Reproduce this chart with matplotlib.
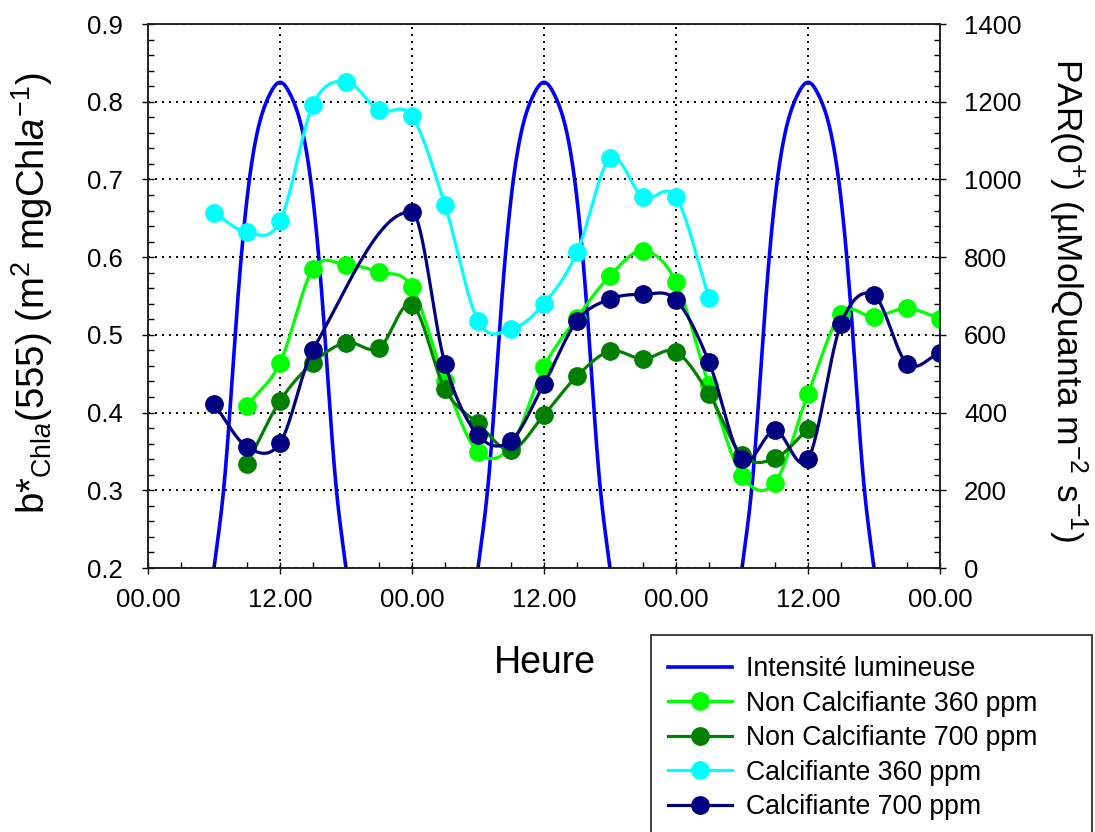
import numpy as np
import matplotlib.pyplot as plt
from matplotlib.patches import Rectangle
from matplotlib.lines import Line2D

plt.rcParams['font.family'] = 'Liberation Sans'
plt.rcParams['mathtext.fontset'] = 'custom'
plt.rcParams['mathtext.rm'] = 'Liberation Sans'
plt.rcParams['mathtext.it'] = 'Liberation Sans:italic'

# --- data (hours since start, 3 days) ---
nc360_h = [9, 12, 15, 18, 21, 24, 27, 30, 33, 36, 39, 42, 45, 48, 51, 54, 57, 60, 63, 66, 69, 72]
nc360_v = [0.409, 0.464, 0.585, 0.590, 0.581, 0.561, 0.440, 0.349, 0.357, 0.459, 0.522,
           0.576, 0.608, 0.568, 0.435, 0.319, 0.310, 0.424, 0.527, 0.523, 0.534, 0.521]

nc700_h = [9, 12, 15, 18, 21, 24, 27, 30, 33, 36, 39, 42, 45, 48, 51, 54, 57, 60]
nc700_v = [0.334, 0.415, 0.464, 0.490, 0.483, 0.539, 0.430, 0.386, 0.352, 0.397, 0.447,
           0.479, 0.469, 0.478, 0.424, 0.345, 0.341, 0.379]

c360_h = [6, 9, 12, 15, 18, 21, 24, 27, 30, 33, 36, 39, 42, 45, 48, 51]
c360_v = [0.657, 0.632, 0.646, 0.796, 0.826, 0.789, 0.781, 0.667, 0.518, 0.507, 0.540,
          0.606, 0.727, 0.677, 0.677, 0.548]

c700_h = [6, 9, 12, 15, 24, 27, 30, 33, 36, 39, 42, 45, 48, 51, 54, 57, 60, 63, 66, 69, 72]
c700_v = [0.411, 0.356, 0.361, 0.481, 0.658, 0.463, 0.371, 0.364, 0.437, 0.518, 0.546,
          0.552, 0.545, 0.465, 0.340, 0.377, 0.340, 0.514, 0.551, 0.463, 0.477]

# light intensity, one day profile (hour of day), same each day
par_day_h = [5, 6, 7, 8, 9, 10, 11, 12, 13, 14, 15, 16, 17, 18, 19]
par_day_v = [-240, 0, 240, 630, 950, 1130, 1215, 1250, 1215, 1130, 950, 630, 240, 0, -240]
day_starts = [0, 24, 48]

xtick_labels = ['00.00', '12.00', '00.00', '12.00', '00.00', '12.00', '00.00']


def smooth(x, y, n=30):
    # cubic hermite (catmull-rom style) curve through the points
    x = np.asarray(x, float)
    y = np.asarray(y, float)
    m = np.empty_like(y)
    m[1:-1] = (y[2:] - y[:-2]) / (x[2:] - x[:-2])
    m[0] = (y[1] - y[0]) / (x[1] - x[0])
    m[-1] = (y[-1] - y[-2]) / (x[-1] - x[-2])
    xs_all, ys_all = [], []
    for i in range(len(x) - 1):
        dx = x[i + 1] - x[i]
        t = np.linspace(0, 1, n, endpoint=(i == len(x) - 2))
        h00 = 2 * t**3 - 3 * t**2 + 1
        h10 = t**3 - 2 * t**2 + t
        h01 = -2 * t**3 + 3 * t**2
        h11 = t**3 - t**2
        xs_all.append(x[i] + t * dx)
        ys_all.append(h00 * y[i] + h10 * dx * m[i] + h01 * y[i + 1] + h11 * dx * m[i + 1])
    return np.concatenate(xs_all), np.concatenate(ys_all)


def natural_spline(x, y, n=300):
    x = np.asarray(x, float)
    y = np.asarray(y, float)
    k = len(x)
    h = np.diff(x)
    A = np.zeros((k, k))
    r = np.zeros(k)
    A[0, 0] = A[-1, -1] = 1
    for i in range(1, k - 1):
        A[i, i - 1] = h[i - 1]
        A[i, i] = 2 * (h[i - 1] + h[i])
        A[i, i + 1] = h[i]
        r[i] = 3 * ((y[i + 1] - y[i]) / h[i] - (y[i] - y[i - 1]) / h[i - 1])
    c = np.linalg.solve(A, r)
    b = (y[1:] - y[:-1]) / h - h * (2 * c[:-1] + c[1:]) / 3
    d = (c[1:] - c[:-1]) / (3 * h)
    xs = np.linspace(x[0], x[-1], n)
    idx = np.clip(np.searchsorted(x, xs) - 1, 0, k - 2)
    dx = xs - x[idx]
    return xs, y[idx] + b[idx] * dx + c[idx] * dx ** 2 + d[idx] * dx ** 3


W, H = 1095, 832
fig = plt.figure(figsize=(W / 100, H / 100), dpi=100)
ax = fig.add_axes([148 / W, 1 - 568 / H, (940 - 148) / W, (568 - 24) / H])
ax2 = ax.twinx()
ax.set_zorder(ax2.get_zorder() + 1)
ax.patch.set_visible(False)

# light curve on right axis
for d0 in day_starts:
    xs, ys = natural_spline(np.array(par_day_h) + d0, par_day_v)
    ax2.plot(xs, ys, color='#0000FF', lw=2.6, solid_capstyle='butt')
ax2.set_ylim(0, 1400)

series = [
    (nc360_h, nc360_v, '#00FF00', 'Non Calcifiante 360 ppm'),
    (nc700_h, nc700_v, '#008000', 'Non Calcifiante 700 ppm'),
    (c360_h, c360_v, '#00FFFF', 'Calcifiante 360 ppm'),
    (c700_h, c700_v, '#000080', 'Calcifiante 700 ppm'),
]
for hx, vy, col, lab in series:
    xs, ys = smooth(hx, vy)
    ax.plot(xs, ys, color=col, lw=2.3)
    ax.plot(hx, vy, 'o', color=col, ms=12.5, mec=col)

ax.set_xlim(0, 72)
ax.set_ylim(0.2, 0.9)
ax.set_xticks(np.arange(0, 73, 12))
ax.set_xticklabels(xtick_labels)
ax.set_xticks(np.arange(0, 73, 3), minor=True)
ax.set_yticks(np.arange(0.2, 0.91, 0.1))
ax.set_yticklabels(['%.1f' % v for v in np.arange(0.2, 0.91, 0.1)])
ax.set_yticks(np.arange(0.2, 0.901, 0.02), minor=True)
ax2.set_yticks(np.arange(0, 1401, 200))
ax2.set_yticks(np.arange(0, 1401, 40), minor=True)

ax.grid(True, which='major', color='black', linestyle=(0, (1, 2.6)), lw=1.4)

ax.tick_params(which='major', direction='inout', length=8.6, width=1, labelsize=18.5, top=False, right=False)
ax.tick_params(which='minor', direction='in', length=4, width=1, top=False, right=False)
ax.tick_params(axis='x', which='major', pad=10)
ax.tick_params(axis='y', which='major', pad=14)
ax2.tick_params(which='major', direction='inout', length=8.6, width=1, labelsize=18.5, pad=13)
ax2.tick_params(which='minor', direction='in', length=4, width=1)

for a in (ax, ax2):
    for s in a.spines.values():
        s.set_color('#222222')
        s.set_linewidth(1.2)

fig.text(545 / W, 1 - 663 / H, 'Heure', fontsize=27, ha='center', va='center')
fig.text(32 / W, 1 - 293 / H,
         r'b*$_{\mathrm{Chl}\mathit{a}}$(555) (m$^{2}$ mgChl$\mathit{a}^{-1}$)',
         rotation=90, fontsize=27.5, ha='center', va='center')
fig.text(1068 / W, 1 - 300 / H,
         r'PAR(0$^{+}$) (µMolQuanta m$^{-2}$ s$^{-1}$)',
         rotation=270, fontsize=25.5, ha='center', va='center')

# legend
handles = [Line2D([], [], color='#0000FF', lw=2.6)]
for hx, vy, col, lab in series:
    handles.append(Line2D([], [], color=col, lw=2.3, marker='o', ms=12.5, mec=col))
labels = ['Intensité lumineuse'] + [s[3] for s in series]
fig.legend(handles, labels, loc='upper left', bbox_to_anchor=(668 / W, 1 - 656 / H),
           frameon=False, fontsize=19.2, handlelength=2.4, handletextpad=0.52,
           labelspacing=0.32, borderpad=0, borderaxespad=0)
fig.patches.append(Rectangle((651 / W, -0.02), (1092 - 651) / W, (832 - 635) / H + 0.02,
                             transform=fig.transFigure, fill=False,
                             edgecolor='#333333', lw=1.3))

fig.savefig('out.png', dpi=100)
